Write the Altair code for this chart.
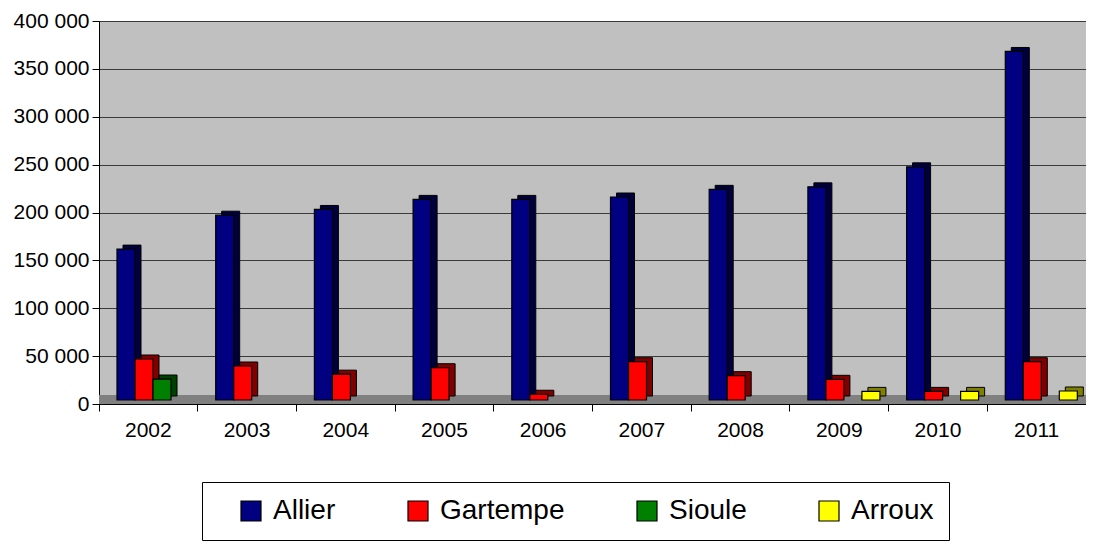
import altair as alt
import pandas as pd

years = ["2002", "2003", "2004", "2005", "2006", "2007", "2008", "2009", "2010", "2011"]
series = ["Allier", "Gartempe", "Sioule", "Arroux"]
allier = [157600, 193000, 199000, 209500, 209500, 212000, 220000, 222600, 243500, 364000]
gartempe = [42800, 35500, 27000, 33700, 6000, 40000, 25400, 21600, 9000, 40000]
sioule = [21900, None, None, None, None, None, None, None, None, None]
arroux = [None, None, None, None, None, None, None, 9000, 9000, 9400]
front_colors = ["#000080", "#FF0000", "#008000", "#FFFF00"]
side_colors = ["#00003A", "#800000", "#004000", "#808000"]
y_ticks = [0, 50000, 100000, 150000, 200000, 250000, 300000, 350000, 400000]

rows = []
for name, vals, side in zip(series, [allier, gartempe, sioule, arroux], side_colors):
    for yr, v in zip(years, vals):
        if v is not None:
            rows.append({"year": yr, "series": name, "value": v, "side": side})
df = pd.DataFrame(rows)

W, H = 987, 383

x_enc = alt.X("year:N", sort=years,
              scale=alt.Scale(domain=years, paddingInner=0, paddingOuter=0),
              axis=alt.Axis(title=None, labelAngle=0, bandPosition=0,
                            tickSize=7, labelPadding=8, labelFontSize=21, grid=False,
                            domainColor="black", tickColor="black", labelColor="black",
                            labelFont="Liberation Sans"))
y_enc = alt.Y("value:Q",
              scale=alt.Scale(domain=[0, 400000], nice=False),
              axis=alt.Axis(title=None, values=y_ticks,
                            labelExpr="replace(format(datum.value, ',d'), ',', ' ')",
                            tickSize=7, labelPadding=3, labelFontSize=21,
                            labelFont="Liberation Sans", labelColor="black",
                            domainColor="black", tickColor="black",
                            grid=True, gridColor="#3a3a3a", gridWidth=1))

floor = alt.Chart(pd.DataFrame({"a": [0]})).mark_rect(color="#808080").encode(
    x=alt.value(0), x2=alt.value("width"),
    y=alt.datum(0), y2=alt.datum(9500)
)

shadow = alt.Chart(df).mark_bar(yOffset=-8, stroke="black", strokeWidth=1).encode(
    x=x_enc,
    xOffset=alt.XOffset("series:N", sort=series,
                        scale=alt.Scale(domain=series, paddingInner=0, paddingOuter=0.74, align=0.9)),
    y=y_enc,
    fill=alt.Fill("side:N", scale=None)
)

front = alt.Chart(df).mark_bar(yOffset=-4, stroke="black", strokeWidth=1.2).encode(
    x=x_enc,
    xOffset=alt.XOffset("series:N", sort=series,
                        scale=alt.Scale(domain=series, paddingInner=0, paddingOuter=0.74, align=0.675)),
    y=y_enc,
    color=alt.Color("series:N", sort=series,
                    scale=alt.Scale(domain=series, range=front_colors),
                    legend=alt.Legend(title=None, orient="none", legendX=103, legendY=461,
                                      direction="horizontal", columns=4,
                                      symbolType="square", symbolSize=400,
                                      symbolStrokeColor="black", symbolStrokeWidth=1.2,
                                      symbolOffset=20,
                                      labelFontSize=28, labelFont="Liberation Sans",
                                      labelColor="black", labelOffset=8, columnPadding=48,
                                      padding=15, strokeColor="black", fillColor="white"))
)

chart = alt.layer(floor, shadow, front).resolve_scale(xOffset="independent").properties(
    width=W, height=H,
    autosize=alt.AutoSizeParams(type="none"),
    padding={"left": 91, "top": 13, "right": 0, "bottom": 140}
).configure_view(fill="#C0C0C0", stroke="#808080", strokeWidth=1)

chart.save("out.html", embed_options={"renderer": "svg", "actions": False})
